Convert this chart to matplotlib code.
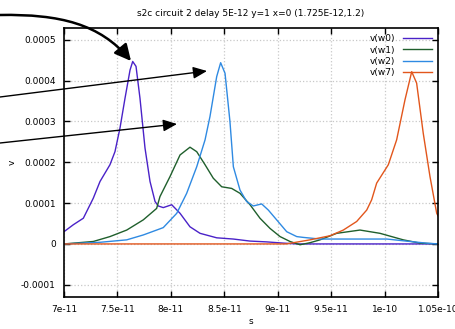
import numpy as np
import matplotlib
matplotlib.use('Agg')
import matplotlib.pyplot as plt
from matplotlib.patches import FancyArrowPatch
from matplotlib.path import Path

#Traces (time in ps, voltage in units of 1e-4)
t_w0 = [70.0, 70.87, 71.81, 72.74, 73.37, 74.30, 74.77, 75.24, 75.71, 76.18, 76.43, 76.74,
        77.11, 77.58, 78.05, 78.52, 78.82, 79.29, 80.08, 80.86, 81.79, 82.73, 84.29, 85.84,
        87.41, 88.97, 90.52, 91.78, 105.0]
v_w0 = [0.30, 0.47, 0.63, 1.12, 1.53, 1.94, 2.26, 2.84, 3.57, 4.26, 4.47, 4.35,
        3.57, 2.35, 1.53, 1.04, 0.93, 0.89, 0.96, 0.75, 0.42, 0.26, 0.15, 0.12,
        0.07, 0.05, 0.02, 0.0, 0.0]

t_w1 = [70.0, 72.74, 74.30, 75.87, 77.42, 78.67, 78.98, 79.92, 80.86, 81.79, 82.42, 83.20,
        83.97, 84.76, 85.69, 86.47, 87.41, 88.34, 89.28, 90.22, 91.15, 92.09, 93.02, 93.96,
        95.52, 97.70, 99.57, 101.75, 103.31, 105.0]
v_w1 = [0.0, 0.06, 0.18, 0.34, 0.59, 0.87, 1.16, 1.65, 2.18, 2.37, 2.26, 1.94,
        1.61, 1.40, 1.36, 1.24, 0.96, 0.63, 0.38, 0.18, 0.06, -0.02, 0.03, 0.10,
        0.26, 0.34, 0.26, 0.10, 0.02, 0.0]

t_w2 = [70.0, 73.37, 75.87, 77.42, 78.67, 79.29, 80.55, 81.48, 82.42, 83.20, 83.66, 84.29,
        84.66, 85.07, 85.53, 85.85, 86.47, 87.09, 87.71, 88.50, 89.12, 89.90, 90.84, 91.78,
        92.40, 93.96, 95.50, 98.00, 100.20, 102.38, 103.90, 105.0]
v_w2 = [0.0, 0.04, 0.10, 0.22, 0.34, 0.40, 0.75, 1.24, 1.89, 2.55, 3.12, 4.10,
        4.44, 4.18, 3.00, 1.89, 1.32, 1.04, 0.93, 0.98, 0.83, 0.59, 0.30, 0.18,
        0.16, 0.12, 0.12, 0.12, 0.12, 0.06, 0.02, 0.0]

t_w7 = [70.0, 90.8, 93.02, 94.89, 96.14, 97.39, 98.33, 98.79, 99.26, 100.35, 101.13, 101.91,
        102.54, 103.0, 103.62, 104.25, 104.88, 105.0]
v_w7 = [0.0, 0.0, 0.10, 0.20, 0.34, 0.55, 0.83, 1.08, 1.49, 1.94, 2.55, 3.53,
        4.22, 3.94, 2.71, 1.65, 0.75, 0.69]

names = ['v(w0)', 'v(w1)', 'v(w2)', 'v(w7)']
colors = ['#4a22c8', '#1f5f2c', '#2f8ae2', '#e2561c']

xticks = [7e-11, 7.5e-11, 8e-11, 8.5e-11, 9e-11, 9.5e-11, 1e-10, 1.05e-10]
xticklabels = ['7e-11', '7.5e-11', '8e-11', '8.5e-11', '9e-11', '9.5e-11', '1e-10', '1.05e-10']
yticks = [-0.0001, 0, 0.0001, 0.0002, 0.0003, 0.0004, 0.0005]
yticklabels = ['-0.0001', '0', '0.0001', '0.0002', '0.0003', '0.0004', '0.0005']

plt.rcParams['font.family'] = ['DejaVu Sans']
fs = 6.5

fig = plt.figure(figsize=(4.55, 3.29), dpi=100)
ax = fig.add_axes([64/455, 32/329, 374/455, 269/329])

series = [(t_w0, v_w0), (t_w1, v_w1), (t_w2, v_w2), (t_w7, v_w7)]
for (t, v), name, c in zip(series, names, colors):
	ax.plot(np.array(t)*1e-12, np.array(v)*1e-4, color=c, lw=1.0, label=name)

ax.set_xlim(7e-11, 1.05e-10)
ax.set_ylim(-0.00013, 0.000529)
ax.set_xticks(xticks)
ax.set_xticklabels(xticklabels, fontsize=fs)
ax.set_yticks(yticks)
ax.set_yticklabels(yticklabels, fontsize=fs)
ax.tick_params(direction='in', length=4, width=1, top=True, right=True, pad=6)
ax.grid(True, color='#c8c8c8', linestyle=':', lw=0.9)
for s in ax.spines.values():
	s.set_linewidth(1.2)
ax.set_xlabel('s', fontsize=fs, labelpad=2)
ax.set_ylabel('v', fontsize=fs, labelpad=3)
ax.set_title('s2c circuit 2 delay 5E-12 y=1 x=0 (1.725E-12,1.2)', fontsize=fs, pad=9)

ax.legend(loc='upper right', frameon=False, fontsize=fs, markerfirst=False,
	handlelength=3.2, handletextpad=0.8, labelspacing=0.25, borderaxespad=0.3)

#Annotation arrows (figure pixel coordinates, y measured from top)
def px(x, y):
	return (x/455., (329.-y)/329.)

curve = Path([px(0, 15), px(60, 14), px(100, 24), px(131, 61)],
	[Path.MOVETO, Path.CURVE4, Path.CURVE4, Path.CURVE4])
fig.add_artist(FancyArrowPatch(path=curve, arrowstyle='-|>,head_length=0.7,head_width=0.35',
	mutation_scale=14, lw=1.8, color='black', transform=fig.transFigure))
for start, end in [((0, 97), (207, 71)), ((0, 143), (177, 124))]:
	fig.add_artist(FancyArrowPatch(px(*start), px(*end), arrowstyle='-|>,head_length=0.7,head_width=0.3',
		mutation_scale=12, lw=1.0, color='black', transform=fig.transFigure,
		shrinkA=0, shrinkB=0))

fig.savefig('out.png', dpi=100)
